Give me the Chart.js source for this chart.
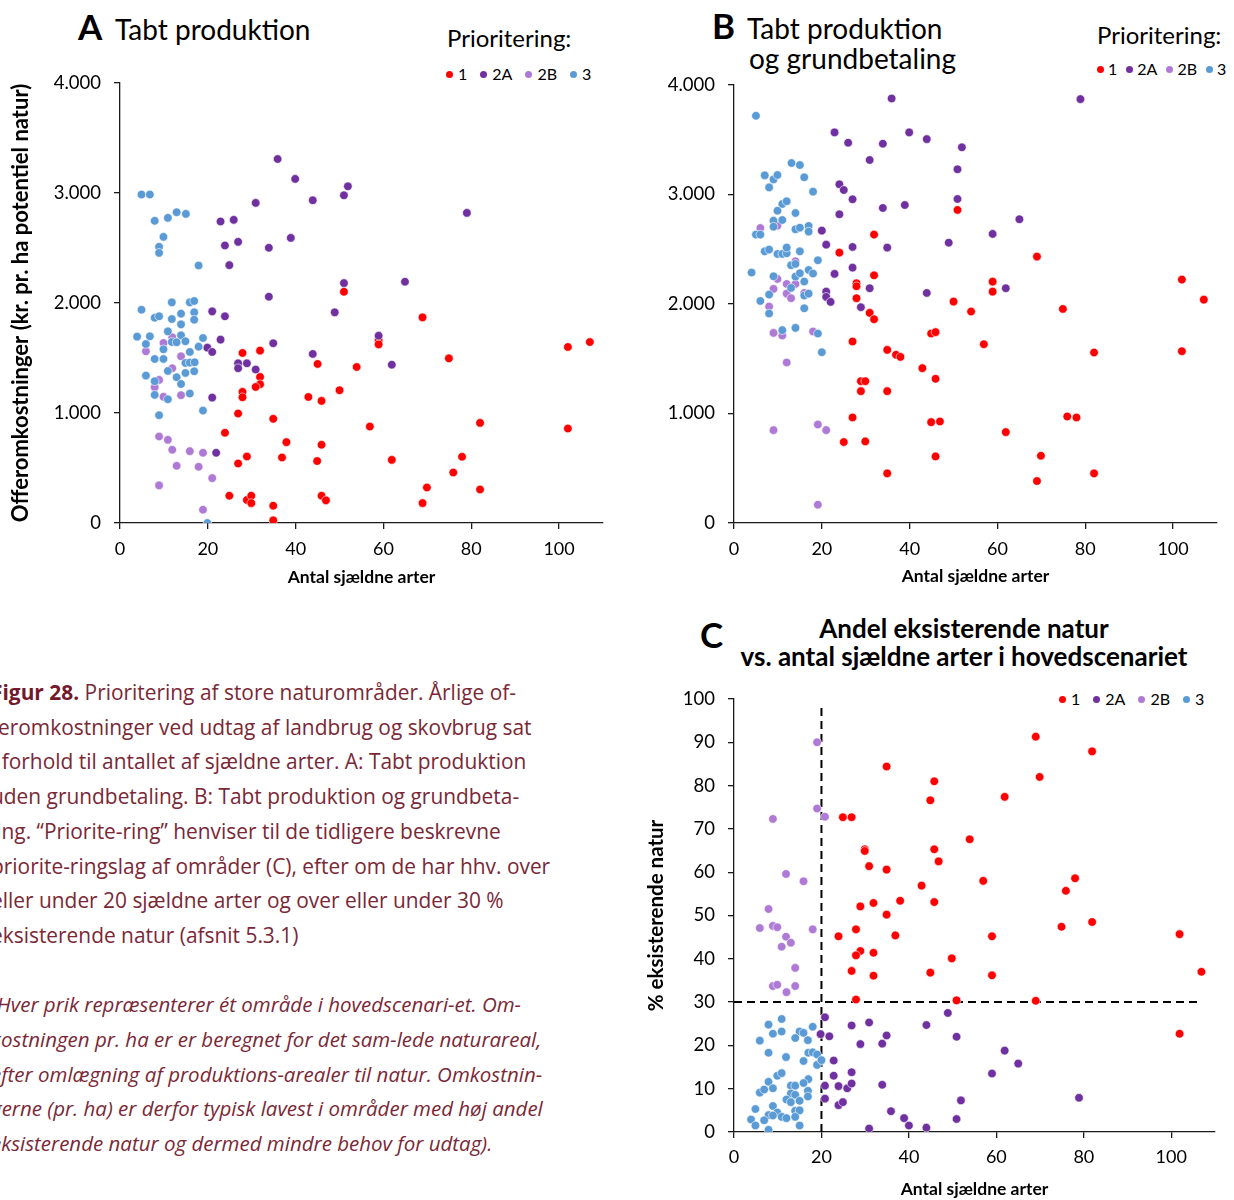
<!DOCTYPE html>
<html lang="da">
<head>
<meta charset="utf-8">
<title>Figur 28 - Prioritering af store naturområder</title>
<script src="https://cdn.jsdelivr.net/npm/chart.js@4.4.1/dist/chart.umd.min.js"></script>
<style>
  body { margin: 0; width: 1234px; height: 1200px; position: relative; overflow: hidden; background: #fff; font-family: Lato, sans-serif; color: #000; }
  .box { position: absolute; }
  .txt { position: absolute; line-height: 1; white-space: nowrap; }
  .letter { font-weight: bold; font-size: 35px; }
  .head { font-size: 28px; }
  .prio { font-size: 24px; }
  .ctitle { font-weight: bold; font-size: 26px; text-align: center; width: 520px; }
  .legend { position: absolute; display: flex; align-items: center; font-size: 16px; line-height: 1; white-space: nowrap; }
  .legend span { display: flex; align-items: center; margin-right: 13px; }
  .legend i { display: inline-block; width: 7px; height: 7px; border-radius: 50%; margin-right: 5px; }
  #legendB span { margin-right: 9px; }
  #legendB i { margin-right: 4px; }
  .caption { position: absolute; left: -9px; top: 675px; width: 620px; font-family: "Open Sans", sans-serif; font-size: 20.9px; line-height: 34.7px; color: #7a2836; white-space: nowrap; }
  .caption b { color: #74182b; }
  .caption i { font-size: 20.5px; }
</style>
</head>
<body>

<div class="txt letter" style="left:78px;top:9px">A</div>
<div class="txt head" style="left:115px;top:15px">Tabt produktion</div>
<div class="txt prio" style="left:447px;top:26px">Prioritering:</div>
<div class="legend" id="legendA" style="left:446px;top:66px"></div>
<div class="box" style="left:0;top:0"><canvas id="chartA" width="620" height="600"></canvas></div>

<div class="txt letter" style="left:712px;top:8px">B</div>
<div class="txt head" style="left:747px;top:14px">Tabt produktion</div>
<div class="txt head" style="left:749px;top:44px">og grundbetaling</div>
<div class="txt prio" style="left:1097px;top:23px">Prioritering:</div>
<div class="legend" id="legendB" style="left:1097px;top:61px"></div>
<div class="box" style="left:620px;top:0"><canvas id="chartB" width="614" height="600"></canvas></div>

<div class="txt letter" style="left:700px;top:617px">C</div>
<div class="txt ctitle" style="left:704px;top:615px">Andel eksisterende natur</div>
<div class="txt ctitle" style="left:704px;top:643px">vs. antal sjældne arter i hovedscenariet</div>
<div class="legend" id="legendC" style="left:1059px;top:691px"></div>
<div class="box" style="left:630px;top:600px"><canvas id="chartC" width="604" height="600"></canvas></div>

<div class="caption">
  <b>Figur 28.</b> Prioritering af store naturområder. Årlige of-<br>
  feromkostninger ved udtag af landbrug og skovbrug sat<br>
  i forhold til antallet af sjældne arter. A: Tabt produktion<br>
  uden grundbetaling. B: Tabt produktion og grundbeta-<br>
  ling. “Priorite-ring” henviser til de tidligere beskrevne<br>
  priorite-ringslag af områder (C), efter om de har hhv. over<br>
  eller under 20 sjældne arter og over eller under 30 %<br>
  eksisterende natur (afsnit 5.3.1)<br>
  <br>
  <i>(Hver prik repræsenterer ét område i hovedscenari-et. Om-<br>
  kostningen pr. ha er er beregnet for det sam-lede naturareal,<br>
  efter omlægning af produktions-arealer til natur. Omkostnin-<br>
  gerne (pr. ha) er derfor typisk lavest i områder med høj andel<br>
  eksisterende natur og dermed mindre behov for udtag).</i>
</div>

<script>
// priority classes and their colours
const categories = ['1', '2A', '2B', '3'];
const colors = ['#ff0000', '#7030a0', '#ae7ad6', '#5b9bd5'];

// A: lost production, [rare species, kr. per ha]
const a1 = [[27.9,1546],[31.9,1567],[45.0,1446],[31.9,1328],[31.9,1261],[30.9,1237],[27.9,1192],[27.9,1143],[42.9,1146],[45.9,1110],
  [26.9,995],[34.9,947],[23.9,820],[37.9,735],[45.9,711],[28.9,605],[26.9,541],[36.9,596],[44.9,563],[24.9,248],
  [28.9,209],[29.9,248],[29.9,181],[45.9,248],[46.9,206],[34.9,157],[34.9,24],[51.0,2102],[68.9,1869],[58.9,1663],
  [58.9,1624],[102,1600],[107,1645],[74.9,1497],[53.9,1418],[50.0,1207],[56.9,877],[82.0,910],[102,859],[61.9,574],
  [77.9,602],[75.9,459],[69.9,323],[82.0,305],[68.9,181]];
const a2A = [[35.9,3309],[39.9,3128],[30.9,2910],[43.9,2934],[22.9,2741],[25.9,2756],[23.9,2523],[26.9,2556],[33.9,2502],[38.9,2592],
  [24.9,2344],[33.9,2057],[21.0,1924],[23.9,1879],[22.9,1667],[34.9,1634],[19.9,1594],[21.0,1555],[43.9,1537],[26.9,1452],
  [26.9,1407],[28.9,1452],[30.9,1395],[21.0,1140],[21.9,638],[51.9,3061],[51.0,2979],[79.0,2819],[51.0,2181],[64.9,2193],
  [48.9,1915],[58.9,1703],[61.9,1439]];
const a2B = [[11.9,1688],[9.9,1637],[5.9,1561],[13.9,1516],[11.9,1407],[8.9,1301],[7.9,1234],[9.9,1147],[13.9,1162],[8.9,787],
  [10.9,756],[11.9,666],[15.9,653],[18.9,638],[12.9,520],[17.9,511],[21.0,408],[8.9,342],[18.9,121]];
const a3 = [[4.9,2986],[6.8,2986],[7.9,2747],[10.9,2774],[12.9,2825],[15.0,2810],[9.9,2601],[8.9,2511],[8.9,2456],[17.9,2341],
  [11.8,2006],[4.9,1939],[15.9,2006],[16.9,2018],[7.9,1866],[8.9,1879],[13.9,1903],[11.8,1854],[16.9,1915],[16.9,1848],
  [13.9,1806],[10.9,1742],[3.9,1694],[6.8,1697],[13.9,1706],[5.9,1627],[11.8,1646],[12.9,1643],[14.9,1652],[9.9,1579],
  [15.9,1555],[18.9,1682],[17.9,1603],[7.9,1491],[9.9,1491],[14.9,1455],[15.9,1458],[17.0,1461],[10.9,1382],[14.9,1364],
  [16.9,1379],[5.9,1340],[12.9,1325],[7.9,1289],[13.9,1264],[7.9,1165],[10.9,1125],[15.9,1177],[8.9,980],[18.9,1022],
  [19.9,0]];

// B: lost production and basic payment
const b1 = [[31.9,2634],[24.0,2469],[31.9,2262],[27.9,2190],[27.9,2162],[27.9,2053],[30.9,1919],[31.9,1861],[44.9,1730],[27.0,1657],
  [34.9,1581],[36.9,1536],[37.9,1517],[42.9,1414],[45.9,1317],[28.9,1295],[29.9,1295],[28.9,1204],[34.9,1204],[27.0,964],
  [44.9,921],[25.0,739],[29.9,745],[45.9,608],[34.9,453],[50.9,2859],[69.0,2433],[58.9,2204],[58.9,2113],[102,2223],
  [107,2040],[50.0,2022],[54.0,1931],[74.9,1955],[45.9,1743],[56.9,1633],[82.0,1557],[102,1569],[46.9,927],[61.9,830],
  [75.9,973],[78.0,964],[69.9,614],[82.0,453],[69.0,383]];
const b2A = [[35.9,3877],[22.9,3567],[39.9,3567],[43.9,3506],[26.0,3473],[33.9,3464],[30.9,3315],[24.0,3093],[25.0,3041],[27.0,2956],
  [33.9,2877],[38.9,2904],[24.0,2819],[20.0,2670],[21.0,2542],[27.0,2521],[34.9,2515],[27.0,2332],[22.9,2275],[30.9,2144],
  [21.0,2113],[21.0,2065],[22.0,2019],[28.9,1971],[43.9,2101],[78.9,3871],[51.9,3431],[50.9,3230],[50.9,2959],[65.0,2774],
  [58.9,2640],[48.9,2560],[61.9,2144]];
const b2B = [[6.0,2694],[9.9,2716],[14.0,2390],[9.9,2229],[12.0,2183],[14.0,2183],[9.0,2138],[12.0,2095],[13.0,2053],[16.0,2101],
  [8.0,1977],[9.0,1736],[11.0,1712],[18.0,1749],[12.0,1466],[9.0,848],[19.1,900],[21.0,848],[19.1,167]];
const b3 = [[5.0,3719],[13.1,3287],[15.0,3269],[7.0,3175],[9.0,3138],[9.9,3178],[16.0,3157],[8.0,3065],[18.0,3026],[11.0,2913],
  [12.0,2938],[9.9,2852],[14.0,2831],[9.0,2761],[11.0,2767],[9.0,2706],[14.0,2682],[15.0,2697],[17.0,2713],[17.0,2661],
  [5.0,2634],[6.0,2634],[7.0,2481],[8.0,2497],[9.9,2457],[11.0,2457],[12.0,2463],[12.0,2515],[15.0,2481],[19.1,2399],
  [13.0,2354],[14.0,2366],[17.0,2311],[18.0,2278],[4.0,2287],[9.0,2253],[14.0,2250],[15.0,2281],[16.0,2205],[13.0,2147],
  [16.0,2077],[17.0,2095],[8.0,2086],[6.0,2028],[8.0,1913],[16.0,1961],[11.0,1761],[14.0,1782],[19.1,1730],[20.0,1560]];

// C: share of existing nature (%) vs rare species
const c1 = [[34.9,84.4],[24.9,72.7],[26.9,72.7],[29.9,65.3],[29.9,64.9],[30.9,61.4],[34.9,60.6],[28.9,52.1],[31.9,52.9],[34.9,50.2],
  [27.9,46.8],[23.9,45.2],[28.9,41.8],[27.9,40.8],[31.9,41.4],[26.9,37.2],[31.9,36.1],[27.9,30.6],[36.9,45.4],[69.0,91.3],
  [81.9,87.9],[45.8,81.0],[69.9,82.0],[44.9,76.6],[61.9,77.4],[53.9,67.6],[45.8,65.3],[46.8,62.5],[57.0,58.0],[78.0,58.6],
  [75.9,55.7],[42.9,56.9],[38.0,53.4],[45.8,53.1],[59.0,45.2],[74.9,47.4],[81.9,48.5],[101.9,45.7],[49.8,40.1],[44.9,36.8],
  [59.0,36.2],[106.9,37.0],[50.9,30.4],[69.0,30.3],[101.9,22.7]];
const c2A = [[20.8,26.5],[26.9,24.6],[30.9,25.3],[19.8,22.6],[21.8,22.1],[34.9,22.3],[28.9,20.3],[33.9,20.4],[22.8,16.5],[22.8,13.0],
  [26.9,13.8],[20.8,10.7],[23.9,10.6],[25.9,10.1],[26.9,11.2],[33.9,10.9],[20.8,7.7],[23.9,6.2],[24.9,6.9],[35.9,4.8],
  [30.9,0.8],[48.9,27.5],[44.0,24.7],[50.9,22.0],[61.9,18.8],[65.0,15.8],[59.0,13.5],[78.9,7.9],[51.9,7.3],[38.9,3.2],
  [40.0,1.5],[44.0,1.0],[50.9,3.0]];
const c2B = [[19.0,90.0],[19.0,74.7],[20.8,72.8],[8.9,72.3],[11.9,59.6],[15.9,57.9],[7.9,51.5],[5.9,47.1],[8.9,47.6],[9.9,47.3],
  [18.0,46.8],[11.9,45.1],[13.0,43.7],[10.9,42.8],[14.0,37.9],[8.9,33.7],[9.9,34.0],[14.0,33.7],[12.0,32.3]];
const c3 = [[10.9,26.1],[7.9,24.8],[18.0,24.3],[8.9,22.7],[10.9,23.2],[15.0,23.2],[15.9,22.9],[16.9,21.2],[14.0,21.7],[5.9,21.1],
  [7.9,18.3],[17.0,18.3],[18.0,18.4],[19.0,17.9],[11.9,17.3],[15.9,16.4],[19.0,15.5],[20.0,16.6],[9.9,13.0],[10.9,13.6],
  [7.9,11.6],[17.0,12.2],[5.9,9.1],[6.9,9.8],[8.9,10.1],[13.0,10.7],[14.0,10.7],[15.9,11.3],[13.0,8.9],[14.0,8.6],
  [16.9,9.5],[16.9,8.2],[12.0,7.5],[13.0,6.9],[15.0,7.2],[8.9,6.0],[4.9,5.3],[7.9,3.9],[9.9,4.5],[8.9,3.8],
  [10.9,3.5],[12.0,3.2],[14.0,4.9],[15.0,5.0],[14.0,3.5],[3.9,2.9],[6.9,2.7],[4.9,1.5],[7.9,0.5],[15.0,1.5]];

// dashed thresholds in C: 20 rare species and 30 % existing nature
const cutSpecies = [[20, 0], [20, 98]];
const cutNature = [[0, 30], [107, 30]];

Chart.defaults.font.family = 'Lato';
Chart.defaults.color = '#000';

function toPoints(list) {
    return list.map(function (p) { return {x: p[0], y: p[1]}; });
}

// thousands separator as in the Danish original (4.000)
function thousands(v) {
    return String(v).replace(/\B(?=(\d{3})+(?!\d))/g, '.');
}

// one dataset per priority class, class 3 drawn on top
function dotSets(series) {
    return series.map(function (list, i) {
        return {
            label: categories[i],
            data: toPoints(list),
            backgroundColor: colors[i],
            borderColor: '#ffffff',
            borderWidth: 0.6,
            pointRadius: 4.3,
            pointHoverRadius: 4.3,
            order: series.length - i
        };
    });
}

function dashed(list) {
    return {
        label: 'cut',
        data: toPoints(list),
        showLine: true,
        borderColor: '#000',
        borderWidth: 2,
        borderDash: [8, 5],
        pointRadius: 0,
        order: 20
    };
}

function makeChart(id, datasets, o) {
    return new Chart(document.getElementById(id), {
        type: 'scatter',
        data: {datasets: datasets},
        options: {
            responsive: false,
            animation: false,
            events: [],
            layout: {padding: {left: 0, top: o.top, right: o.right, bottom: 0}},
            plugins: {legend: {display: false}, tooltip: {enabled: false}},
            scales: {
                x: {
                    type: 'linear', min: 0, max: 110,
                    border: {color: '#1a1a1a', width: 1.3},
                    grid: {drawOnChartArea: false, drawTicks: true, tickLength: 6, color: '#1a1a1a', lineWidth: 1.3},
                    ticks: {stepSize: 20, includeBounds: false, padding: o.xTickPad, maxRotation: 0, font: {size: 18}},
                    title: {display: true, text: 'Antal sjældne arter', font: {size: 17.5, weight: 'bold'}, padding: {top: 0, bottom: o.xTitlePad}},
                    afterFit: function (s) { s.height = o.xHeight; }
                },
                y: {
                    type: 'linear', min: 0, max: o.yMax,
                    border: {color: '#1a1a1a', width: 1.3},
                    grid: {drawOnChartArea: false, drawTicks: true, tickLength: 6, color: '#1a1a1a', lineWidth: 1.3},
                    ticks: {stepSize: o.yStep, padding: 13, font: {size: 18.5}, callback: function (v) { return thousands(v); }},
                    title: {display: !!o.yTitle, text: o.yTitle || '', font: {size: o.yTitleSize || 19, weight: 'bold'}, padding: {top: o.yTitlePad, bottom: 0}},
                    afterFit: function (s) { s.width = o.yWidth; }
                }
            }
        }
    });
}

function buildLegend(id) {
    var el = document.getElementById(id);
    categories.forEach(function (name, i) {
        var item = document.createElement('span');
        var dot = document.createElement('i');
        dot.style.background = colors[i];
        item.appendChild(dot);
        item.appendChild(document.createTextNode(name));
        el.appendChild(item);
    });
}

buildLegend('legendA');
buildLegend('legendB');
buildLegend('legendC');

makeChart('chartA', dotSets([a1, a2A, a2B, a3]), {
    top: 83, right: 17, yMax: 4000, yStep: 1000, yWidth: 120,
    yTitle: 'Offeromkostninger (kr. pr. ha potentiel natur)', yTitleSize: 22, yTitlePad: 8,
    xHeight: 77, xTickPad: 9, xTitlePad: 12
});

makeChart('chartB', dotSets([b1, b2A, b2B, b3]), {
    top: 85, right: 17, yMax: 4000, yStep: 1000, yWidth: 114,
    xHeight: 77, xTickPad: 9, xTitlePad: 13
});

makeChart('chartC', [dashed(cutSpecies), dashed(cutNature)].concat(dotSets([c1, c2A, c2B, c3])), {
    top: 99, right: 19, yMax: 100, yStep: 10, yWidth: 104,
    yTitle: '% eksisterende natur', yTitleSize: 20.5, yTitlePad: 14,
    xHeight: 68, xTickPad: 8, xTitlePad: 0
});
</script>
</body>
</html>
